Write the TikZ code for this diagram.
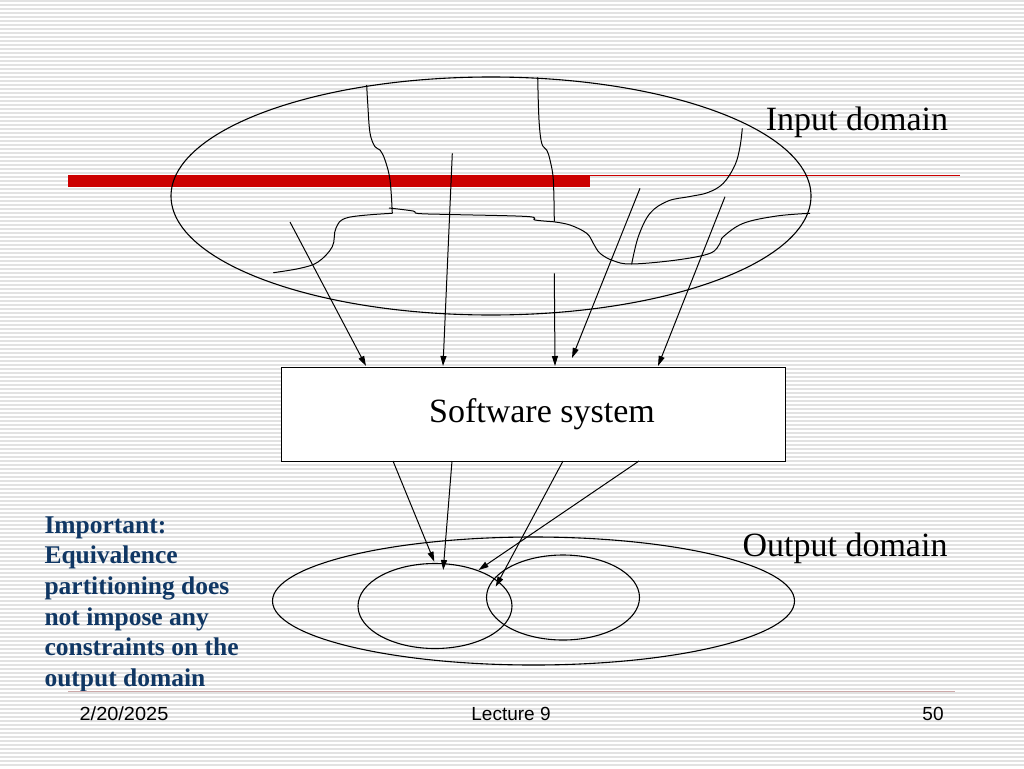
\documentclass[tikz,border=0pt]{standalone}
\usepackage{fontspec}
\setmainfont{Liberation Serif}
\newfontfamily\footfont{Liberation Sans}
\usetikzlibrary{shapes.geometric,arrows.meta}
\definecolor{navy}{RGB}{16,55,100}
\definecolor{barred}{RGB}{204,0,0}
\definecolor{footline}{RGB}{205,170,170}
\definecolor{stripe}{RGB}{226,226,226}
\begin{document}
\begin{tikzpicture}[x=1pt,y=-1pt,line width=1pt,
  curve/.style={line width=1pt,black},
  arr/.style={-{Triangle[length=10pt,width=6pt]},line width=1pt},
  dom/.style={draw,ellipse,inner sep=0pt,line width=1.1pt},
  lbl/.style={font=\fontsize{34}{40}\selectfont,inner sep=0pt},
  foot/.style={font=\footfont\fontsize{19}{22}\selectfont,inner sep=0pt}]
\useasboundingbox (0,0) rectangle (1024,768);
\fill[white] (0,0) rectangle (1024,768);
\foreach \y in {1,5,...,767} \draw[stripe,line width=1.4pt] (0,\y) -- (1024,\y);

% red bar and thin red line
\fill[barred] (68,175) rectangle (590,187);
\draw[barred,line width=1.3pt] (590,175.6) -- (960,175.6);

% input domain
\node[dom,minimum width=640pt,minimum height=238pt] (indom) at (491,196) {};
\node[lbl] (inlbl) at (857,122) {Input domain};

% partition curves
\draw[curve] plot[smooth,tension=0.6] coordinates {(366.7,85) (367.7,103) (370,133) (375,146.7) (380,150) (385,160) (390,180) (392.3,213.3)};
\draw[curve] plot[smooth,tension=0.6] coordinates {(537.7,77.3) (539,120) (541.7,143.3) (546.7,150) (550,160) (553.3,180) (554.3,221.7)};
\draw[curve] plot[smooth,tension=0.6] coordinates {(389,208) (413,211) (418,213.5) (450,214.5) (527,216.5) (535,220) (553,221.7)};
\draw[curve] plot[smooth,tension=0.6] coordinates {(392.3,213.3) (348,217.5) (336,228) (332.3,246.7) (318,262) (300,268.3) (273.3,272.7)};
\draw[curve] plot[smooth,tension=0.6] coordinates {(553,221.7) (570,225) (586.7,233.3) (593.3,243.3) (600,253.3) (613.3,260.7) (631.7,264) (676.7,260) (710,253.3) (720,243.3) (723.3,236.7) (743.3,223.3) (776.7,216) (810,213.3)};
\draw[curve] plot[smooth,tension=0.6] coordinates {(742.3,128.3) (740,146.7) (735,165) (723.3,183.3) (708,192.5) (690,196.5) (668,201) (650,213.3) (638.3,236.7) (631.7,264)};

% software system
\node[draw,fill=white,line width=1pt,minimum width=504pt,minimum height=94pt,inner sep=0pt,
  font=\fontsize{34}{40}\selectfont] (sys) at (533,414) {\hspace*{18pt}Software system};

% arrows input -> system
\coordinate (s1) at (290,222);   \coordinate (e1) at (366,366);
\coordinate (s2) at (452.3,153.3); \coordinate (e2) at (443,366);
\coordinate (s3) at (554.3,273.3); \coordinate (e3) at (555,366);
\coordinate (s4) at (640,188.3); \coordinate (e4) at (572,358);
\coordinate (s5) at (725,196.7); \coordinate (e5) at (658,366);
\foreach \i in {1,...,5} \draw[arr] (s\i) -- (e\i);

% output domain
\node[dom,minimum width=522pt,minimum height=128pt] (outdom) at (533.5,601) {};
\node[dom,minimum width=154pt,minimum height=85pt] (p1) at (435,606) {};
\node[dom,minimum width=153pt,minimum height=85pt] (p2) at (563,597.5) {};
\node[lbl] (outlbl) at (845,548) {Output domain};

% arrows system -> output
\coordinate (t1) at (393,461); \coordinate (f1) at (434.3,561.7);
\coordinate (t2) at (452,461); \coordinate (f2) at (443.2,570);
\coordinate (t3) at (563,461); \coordinate (f3) at (495.7,586.7);
\coordinate (t4) at (639,461); \coordinate (f4) at (478.6,570);
\foreach \i in {1,...,4} \draw[arr] (t\i) -- (f\i);

% note
\node[anchor=north west,align=left,inner sep=0pt,text=navy,
  font=\bfseries\fontsize{25.5}{30.6}\selectfont] (note) at (44,516)
  {Important:\\Equivalence\\partitioning does\\not impose any\\constraints on the\\output domain};

% footer
\draw[footline,line width=1pt] (68,691) -- (955,691);
\node[foot] (date) at (124,714) {\scalebox{1.05}[1]{2/20/2025}};
\node[foot] (lect) at (511,714) {Lecture 9};
\node[foot] (pg) at (933,714) {50};
\end{tikzpicture}
\end{document}
